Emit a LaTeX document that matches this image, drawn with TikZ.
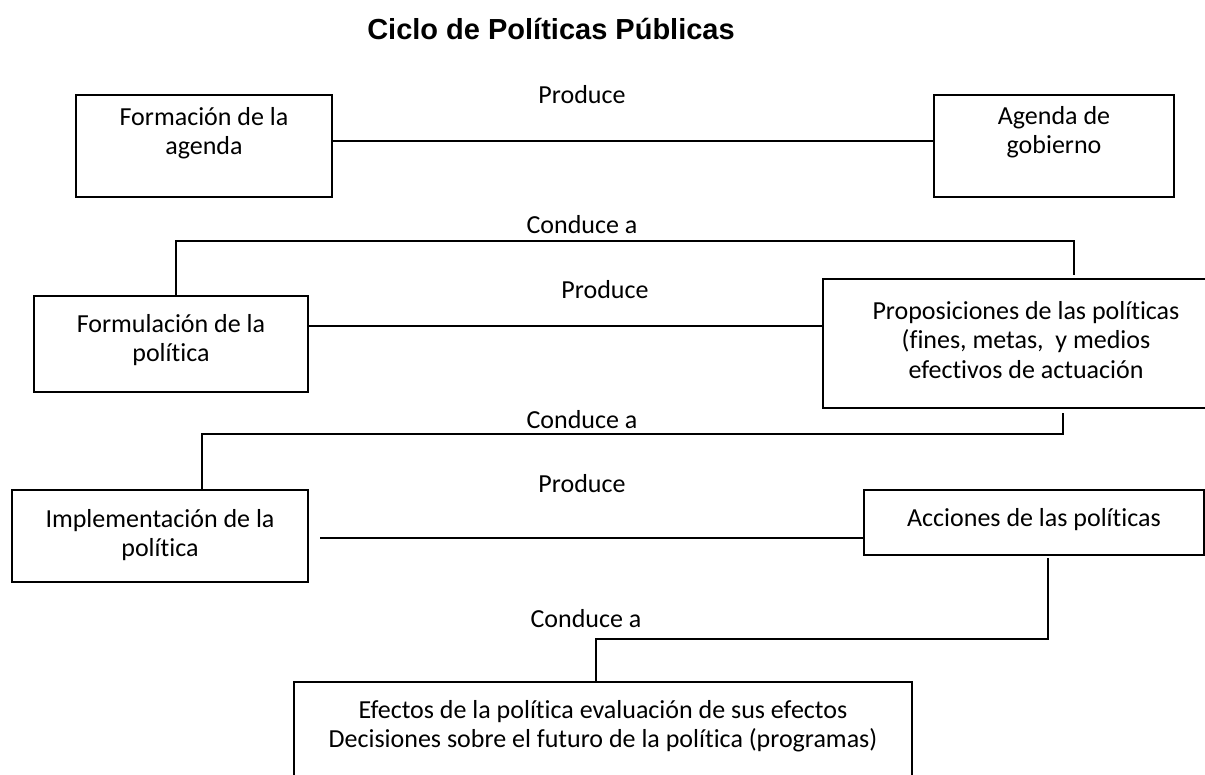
\documentclass[tikz,border=0pt]{standalone}
\usepackage{fontspec}
\setmainfont{Carlito}[Ligatures={NoCommon}]
\newfontfamily\titlefont{Liberation Sans}
\begin{document}
\begin{tikzpicture}[x=1pt,y=-1pt,
  box/.style={draw=black, line width=1.6pt, inner sep=0pt, outer sep=0pt, anchor=north west},
  boxtext/.style={inner sep=0pt, anchor=north, align=center, font=\fontsize{26}{29.5}\selectfont},
  lbl/.style={inner sep=0pt, anchor=base, font=\fontsize{26}{29.5}\selectfont},
  conn/.style={draw=black, line width=1.6pt}]
\useasboundingbox (0,0) rectangle (1205,774);
\clip (0,0) rectangle (1205,774);
\fill[white] (0,0) rectangle (1205,774);

% title
\node[inner sep=0pt, anchor=base, font=\titlefont\bfseries\fontsize{29}{34}\selectfont] (title) at (551,39) {Ciclo de Políticas Públicas};

% boxes
\node[box, minimum width=256pt, minimum height=102pt] (fa) at (76,95) {};
\node[box, minimum width=240pt, minimum height=102pt] (ag) at (934,95) {};
\node[box, minimum width=274pt, minimum height=96pt] (fp) at (34,296) {};
\node[box, minimum width=392pt, minimum height=129pt] (pp) at (823,279) {};
\node[box, minimum width=296pt, minimum height=92pt] (ip) at (12,490) {};
\node[box, minimum width=340pt, minimum height=65pt] (ac) at (864,490) {};
\node[box, minimum width=618pt, minimum height=130pt] (ef) at (294,682) {};

% box texts
\node[boxtext] (tfa) at (204,103) {\rule{0pt}{22pt}Formación de la\\agenda};
\node[boxtext] (tag) at (1054,102) {\rule{0pt}{22pt}Agenda de\\gobierno};
\node[boxtext] (tfp) at (171,310) {\rule{0pt}{22pt}Formulación de la\\política};
\node[boxtext] (tpp) at (1026,297) {\rule{0pt}{22pt}Proposiciones de las políticas\\(fines, metas,~ y medios\\efectivos de actuación};
\node[boxtext] (tip) at (160,505) {\rule{0pt}{22pt}Implementación de la\\política};
\node[boxtext] (tac) at (1034,504) {\rule{0pt}{22pt}Acciones de las políticas};
\node[boxtext] (tef) at (603,696) {\rule{0pt}{22pt}Efectos de la política evaluación de sus efectos\\Decisiones sobre el futuro de la política (programas)};

% labels
\node[lbl] (p1) at (582,103) {Produce};
\node[lbl] (c1) at (582,233) {Conduce a};
\node[lbl] (p2) at (605,298) {Produce};
\node[lbl] (c2) at (582,428) {Conduce a};
\node[lbl] (p3) at (582,492) {Produce};
\node[lbl] (c3) at (586,627) {Conduce a};

% helper coordinates
\coordinate (y1) at (0,141);
\coordinate (k1l) at (176,241);
\coordinate (k1r) at (1074,241);
\coordinate (k1e) at (1074,275);
\coordinate (y2) at (0,326);
\coordinate (k2s) at (1063,413);
\coordinate (k2r) at (1063,434);
\coordinate (k2l) at (202,434);
\coordinate (l3) at (320,538);
\coordinate (k3s) at (1048,558);
\coordinate (k3r) at (1048,639);
\coordinate (k3l) at (596,639);

% connectors
\draw[conn] (fa.east |- y1) -- (ag.west |- y1);
\draw[conn] (fp.north -| k1l) -- (k1l) -- (k1r) -- (k1e);
\draw[conn] (fp.east |- y2) -- (pp.west |- y2);
\draw[conn] (k2s) -- (k2r) -- (k2l) -- (ip.north -| k2l);
\draw[conn] (l3) -- (ac.west |- l3);
\draw[conn] (k3s) -- (k3r) -- (k3l) -- (ef.north -| k3l);
\end{tikzpicture}
\end{document}
